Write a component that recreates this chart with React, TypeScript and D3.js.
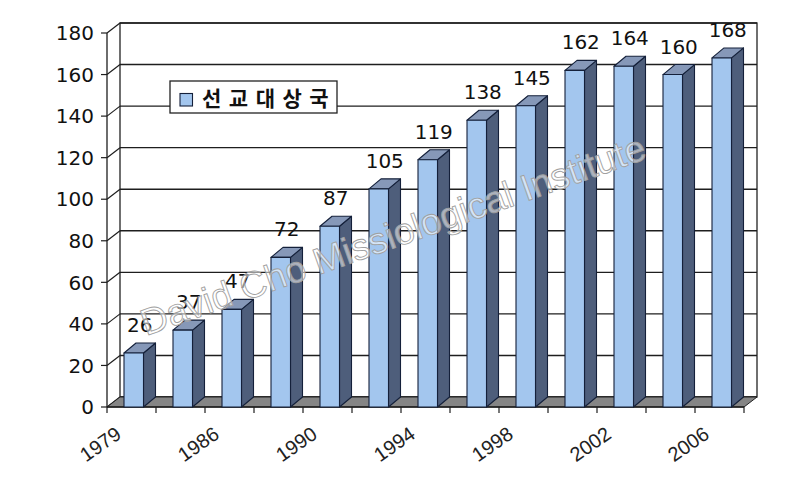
import React from "react";
import * as d3 from "d3";

const years = ["1979", "1982", "1986", "1988", "1990", "1992", "1994", "1996", "1998", "2000", "2002", "2004", "2006"];
const values = [26, 37, 47, 72, 87, 105, 119, 138, 145, 162, 164, 160, 168];
const yTicks = [0, 20, 40, 60, 80, 100, 120, 140, 160, 180];
const seriesName = "선교대상국";
const watermark = "David Cho Missiological Institute";

const W = 800;
const H = 484;
const DX = 13; // wall depth
const DY = 10;
const BDX = 12; // bar depth
const BDY = 10;

export default function App() {
  const x = d3.scaleBand<string>().domain(years).range([107, 744]).padding(0);
  const y = d3.scaleLinear().domain([0, 180]).range([407, 33]);
  const step = x.step();
  const barOff = 17;
  const barW = 19.5;
  const x0 = 107;
  const x1 = 744;
  const y0 = y(0);
  const yTop = y(180);

  const font = "'DejaVu Sans', 'Liberation Sans', Arial, sans-serif";
  const thinFont = "'Liberation Sans', Arial, sans-serif";

  return (
    <svg width={W} height={H} style={{ position: "absolute", left: 0, top: 0, background: "#fff" }}>
      {/* back wall */}
      <rect x={x0 + DX} y={yTop - DY} width={x1 - x0} height={y0 - yTop} fill="#fff" stroke="#222" strokeWidth={1.3} />
      {/* gridlines on back wall and side wall */}
      {yTicks.map((t) => (
        <g key={t}>
          <line x1={x0 + DX} x2={x1 + DX} y1={y(t) - DY} y2={y(t) - DY} stroke="#1e1e1e" strokeWidth={1.4} />
          <line x1={x0} x2={x0 + DX} y1={y(t)} y2={y(t) - DY} stroke="#1e1e1e" strokeWidth={1.2} />
          <line x1={x0 - 6} x2={x0} y1={y(t)} y2={y(t)} stroke="#1e1e1e" strokeWidth={1.2} />
          <text x={94} y={y(t)} dy="0.36em" textAnchor="end" fontFamily={font} fontSize={20} fill="#111">
            {t}
          </text>
        </g>
      ))}
      {/* floor */}
      <path
        d={`M${x0},${y0} L${x1},${y0} L${x1 + DX},${y0 - DY} L${x0 + DX},${y0 - DY} Z`}
        fill="#858585"
        stroke="#222"
        strokeWidth={1}
      />
      {/* front axis line */}
      <line x1={x0} x2={x0} y1={yTop} y2={y0} stroke="#1e1e1e" strokeWidth={1.3} />
      <line x1={x0} x2={x1} y1={y0} y2={y0} stroke="#1e1e1e" strokeWidth={1.3} />
      {/* category ticks */}
      {years.map((yr, i) => (
        <line key={"t" + yr} x1={x0 + i * step} x2={x0 + i * step} y1={y0} y2={y0 + 6} stroke="#1e1e1e" strokeWidth={1.2} />
      ))}
      <line x1={x1} x2={x1} y1={y0} y2={y0 + 6} stroke="#1e1e1e" strokeWidth={1.2} />
      {/* bars */}
      {values.map((v, i) => {
        const bx = (x(years[i]) as number) + barOff;
        const by = y(v);
        return (
          <g key={"b" + i} stroke="#14203a" strokeWidth={1.1} strokeLinejoin="round">
            <path d={`M${bx + barW},${by} L${bx + barW + BDX},${by - BDY} L${bx + barW + BDX},${y0 - BDY} L${bx + barW},${y0} Z`} fill="#4e5e7b" />
            <path d={`M${bx},${by} L${bx + BDX},${by - BDY} L${bx + barW + BDX},${by - BDY} L${bx + barW},${by} Z`} fill="#8698b8" />
            <rect x={bx} y={by} width={barW} height={y0 - by} fill="#a3c6ee" />
          </g>
        );
      })}
      {/* value labels */}
      {values.map((v, i) => {
        const bx = (x(years[i]) as number) + barOff;
        return (
          <text key={"l" + i} x={bx + barW / 2 + BDX / 2} y={y(v) - BDY - 11} textAnchor="middle" fontFamily={font} fontSize={20} fill="#111">
            {v}
          </text>
        );
      })}
      {/* x labels */}
      {years.map((yr, i) =>
        i % 2 === 0 ? (
          <text
            key={"x" + yr}
            transform={`translate(${(x(yr) as number) + step / 2 - 9},437) rotate(-35)`}
            textAnchor="end"
            fontFamily={thinFont}
            fontSize={20}
            fill="#222"
          >
            {yr}
          </text>
        ) : null
      )}
      {/* legend */}
      <rect x={170} y={81} width={167} height={32} fill="#fff" stroke="#222" strokeWidth={1.3} />
      <rect x={180} y={93.5} width={12.5} height={12.5} fill="#a3c6ee" stroke="#14203a" strokeWidth={1.1} />
      <text x={202} y={106} fontFamily="'Noto Sans CJK KR', sans-serif" fontWeight={700} fontSize={21} letterSpacing={7.5} fill="#111">
        {seriesName}
      </text>
      {/* watermark */}
      <text
        transform="translate(146,336) rotate(-19.5)"
        fontFamily={thinFont}
        fontSize={37}
        fill="rgba(255,255,255,0.55)"
        stroke="#a0a0a0"
        strokeWidth={0.9}
      >
        {watermark}
      </text>
    </svg>
  );
}
